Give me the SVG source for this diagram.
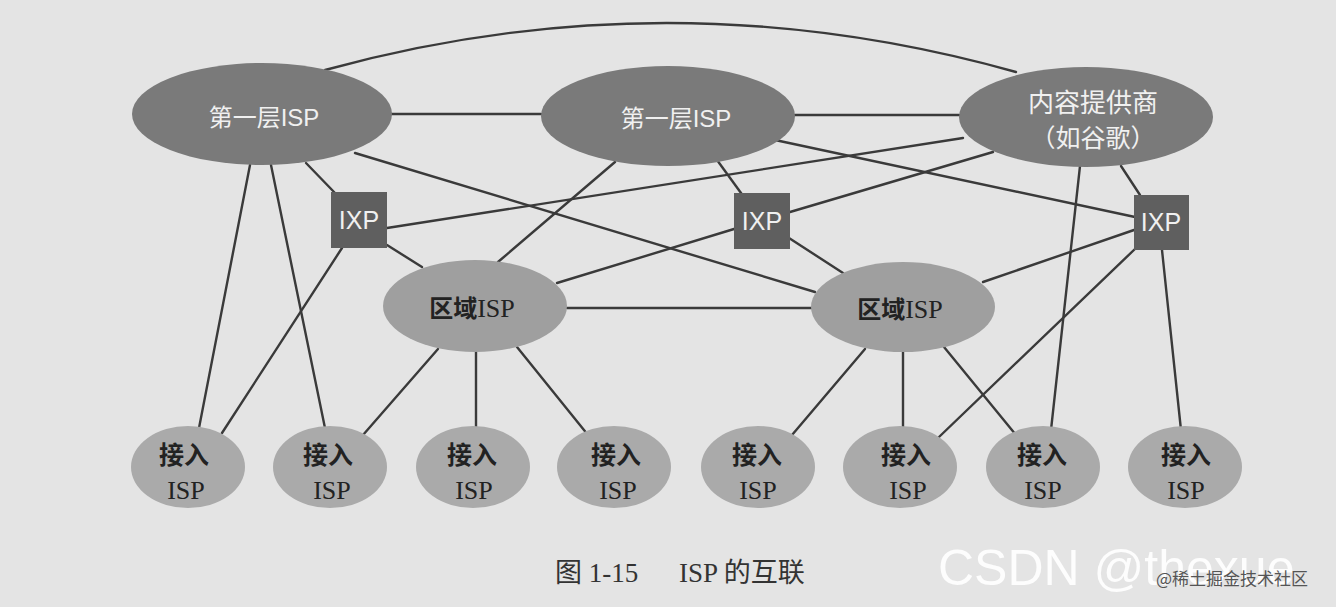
<svg xmlns="http://www.w3.org/2000/svg" width="1336" height="607" viewBox="0 0 1336 607">
<style>
.bg{fill:#e4e4e4}
.t1{fill:#7a7a7a}
.ixp{fill:#5f5f5f}
.reg{fill:#9f9f9f}
.acc{fill:#aaaaaa}
.ln{stroke:#3a3a3a;stroke-width:2.4;fill:none;stroke-linecap:round}
.wt{fill:#f0f0f0;font-family:"Liberation Sans","Noto Sans CJK SC",sans-serif;font-size:24px;text-anchor:middle}
.dk{fill:#222;font-family:"Liberation Serif","Noto Sans CJK SC",serif;font-size:26px;text-anchor:middle}
.dkc{fill:#222;font-family:"Noto Sans CJK SC",sans-serif;font-size:25px;font-weight:bold;text-anchor:middle}
.rc{font-family:"Noto Sans CJK SC",sans-serif;font-weight:bold;font-size:24px}
.cap{fill:#333;font-family:"Liberation Serif","Noto Sans CJK SC",serif;font-size:27px}
</style>
<rect class="bg" x="0" y="0" width="1336" height="607"/>
<g id="connectors">
<path class="ln" d="M325,70 Q670,-25 1016,72"/>
<line class="ln" x1="391" y1="114" x2="541" y2="114"/>
<line class="ln" x1="795" y1="115" x2="959" y2="115"/>
<line class="ln" x1="250" y1="165" x2="199" y2="428"/>
<line class="ln" x1="271" y1="165" x2="325" y2="428"/>
<line class="ln" x1="306" y1="163" x2="335" y2="193"/>
<line class="ln" x1="342" y1="248" x2="222" y2="433"/>
<line class="ln" x1="387" y1="245" x2="422" y2="267"/>
<line class="ln" x1="387" y1="228" x2="963" y2="138"/>
<line class="ln" x1="355" y1="153" x2="815" y2="292"/>
<line class="ln" x1="775" y1="140" x2="1135" y2="217"/>
<line class="ln" x1="498" y1="262" x2="615" y2="162"/>
<line class="ln" x1="557" y1="283" x2="734" y2="229"/>
<line class="ln" x1="717" y1="160" x2="741" y2="193"/>
<line class="ln" x1="567" y1="308" x2="812" y2="308"/>
<line class="ln" x1="790" y1="212" x2="993" y2="152"/>
<line class="ln" x1="789" y1="238" x2="843" y2="273"/>
<line class="ln" x1="1121" y1="166" x2="1140" y2="195"/>
<line class="ln" x1="1080" y1="166" x2="1051" y2="430"/>
<line class="ln" x1="1162" y1="250" x2="1181" y2="430"/>
<line class="ln" x1="1134" y1="230" x2="983" y2="282"/>
<line class="ln" x1="1136" y1="248" x2="939" y2="437"/>
<line class="ln" x1="438" y1="349" x2="363" y2="435"/>
<line class="ln" x1="476" y1="352" x2="476" y2="428"/>
<line class="ln" x1="517" y1="347" x2="588" y2="435"/>
<line class="ln" x1="865" y1="349" x2="792" y2="435"/>
<line class="ln" x1="903" y1="352" x2="903" y2="428"/>
<line class="ln" x1="944" y1="347" x2="1016" y2="435"/>
</g>
<g id="tier1-a">
<ellipse class="t1" cx="262" cy="114" rx="130" ry="51"/>
<text class="wt" x="264" y="126">第一层ISP</text>
</g>
<g id="tier1-b">
<ellipse class="t1" cx="668" cy="116" rx="127" ry="50"/>
<text class="wt" x="676" y="127">第一层ISP</text>
</g>
<g id="content-provider">
<ellipse class="t1" cx="1086" cy="117" rx="127" ry="50"/>
<text class="wt" x="1093" y="112" style="font-size:26px">内容提供商</text>
<text class="wt" x="1093" y="147" style="font-size:25px">（如谷歌）</text>
</g>
<g id="ixp-1">
<rect class="ixp" x="331" y="192" width="56" height="56"/>
<text class="wt" x="359" y="229" style="font-size:25px">IXP</text>
</g>
<g id="ixp-2">
<rect class="ixp" x="734" y="193" width="56" height="56"/>
<text class="wt" x="762" y="230" style="font-size:25px">IXP</text>
</g>
<g id="ixp-3">
<rect class="ixp" x="1134" y="195" width="55" height="55"/>
<text class="wt" x="1161" y="231" style="font-size:25px">IXP</text>
</g>
<g id="regional-1">
<ellipse class="reg" cx="475" cy="306" rx="92" ry="46"/>
<text class="dk" x="472" y="317"><tspan class="rc">区域</tspan>ISP</text>
</g>
<g id="regional-2">
<ellipse class="reg" cx="903" cy="307" rx="92" ry="45"/>
<text class="dk" x="900" y="318"><tspan class="rc">区域</tspan>ISP</text>
</g>
<g id="access-1"><ellipse class="acc" cx="188" cy="467" rx="57" ry="41"/><text class="dkc" x="184" y="464">接入</text><text class="dk" x="186" y="499">ISP</text></g>
<g id="access-2"><ellipse class="acc" cx="330" cy="467" rx="57" ry="41"/><text class="dkc" x="328" y="464">接入</text><text class="dk" x="332" y="499">ISP</text></g>
<g id="access-3"><ellipse class="acc" cx="473" cy="467" rx="57" ry="41"/><text class="dkc" x="472" y="464">接入</text><text class="dk" x="474" y="499">ISP</text></g>
<g id="access-4"><ellipse class="acc" cx="614" cy="467" rx="57" ry="41"/><text class="dkc" x="616" y="464">接入</text><text class="dk" x="618" y="499">ISP</text></g>
<g id="access-5"><ellipse class="acc" cx="758" cy="467" rx="57" ry="41"/><text class="dkc" x="757" y="464">接入</text><text class="dk" x="758" y="499">ISP</text></g>
<g id="access-6"><ellipse class="acc" cx="900" cy="467" rx="57" ry="41"/><text class="dkc" x="906" y="464">接入</text><text class="dk" x="908" y="499">ISP</text></g>
<g id="access-7"><ellipse class="acc" cx="1043" cy="467" rx="57" ry="41"/><text class="dkc" x="1042" y="464">接入</text><text class="dk" x="1043" y="499">ISP</text></g>
<g id="access-8"><ellipse class="acc" cx="1185" cy="467" rx="57" ry="41"/><text class="dkc" x="1186" y="464">接入</text><text class="dk" x="1186" y="499">ISP</text></g>
<g id="caption">
<text class="cap" x="555" y="582">图 1-15</text>
<text class="cap" x="679" y="582">ISP 的互联</text>
</g>
<g id="watermark">
<text x="938" y="585" style="fill:#ffffff;fill-opacity:0.9;font-family:'Liberation Sans',sans-serif;font-size:50px">CSDN @thexue</text>
<text x="1156" y="585" style="fill:#555;font-family:'Noto Sans CJK SC',sans-serif;font-size:17px">@稀土掘金技术社区</text>
</g>
</svg>
